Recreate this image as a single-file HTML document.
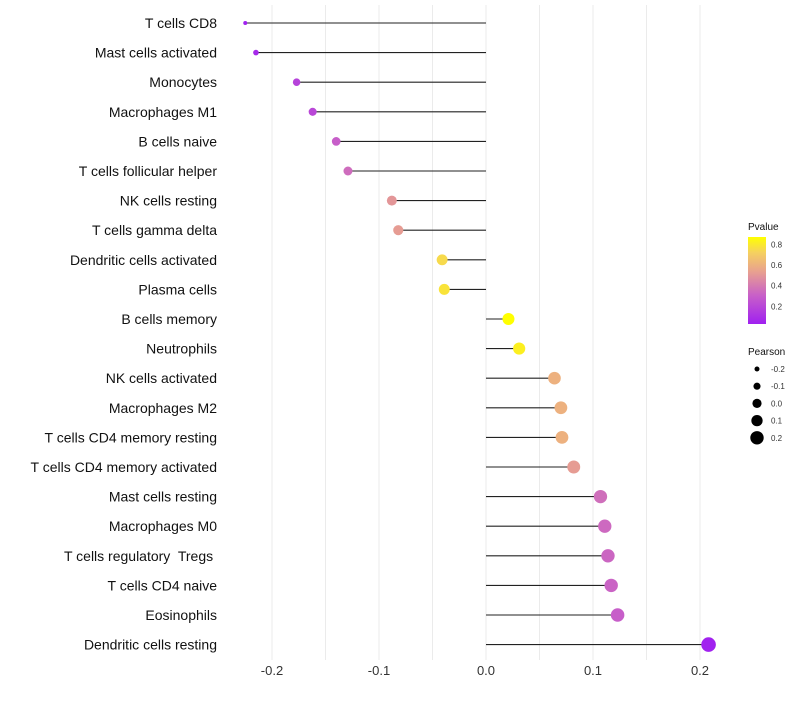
<!DOCTYPE html>
<html><head><meta charset="utf-8"><style>
body{margin:0;background:#fff;font-family:"Liberation Sans",sans-serif}
text{white-space:pre}
</style></head><body>
<svg id="chart" width="800" height="700" xmlns="http://www.w3.org/2000/svg">
<defs><linearGradient id="pg" x1="0" y1="1" x2="0" y2="0">
<stop offset="0" stop-color="#a020f0"/><stop offset="0.33" stop-color="#c860c8"/><stop offset="0.6" stop-color="#e8a090"/><stop offset="0.82" stop-color="#f5d060"/><stop offset="1" stop-color="#ffff00"/></linearGradient></defs>
<g id="grid"></g><g id="marks"></g><g id="labels"></g><g id="legend"></g>
</svg>
<script>
const categories=["T cells CD8","Mast cells activated","Monocytes","Macrophages M1","B cells naive","T cells follicular helper","NK cells resting","T cells gamma delta","Dendritic cells activated","Plasma cells","B cells memory","Neutrophils","NK cells activated","Macrophages M2","T cells CD4 memory resting","T cells CD4 memory activated","Mast cells resting","Macrophages M0","T cells regulatory  Tregs ","T cells CD4 naive","Eosinophils","Dendritic cells resting"];
const pearson=[-0.225,-0.215,-0.177,-0.162,-0.140,-0.129,-0.088,-0.082,-0.041,-0.039,0.021,0.031,0.064,0.070,0.071,0.082,0.107,0.111,0.114,0.117,0.123,0.208];
const pvalue=[0.04,0.07,0.18,0.2,0.3,0.35,0.5,0.52,0.75,0.78,0.87,0.82,0.6,0.6,0.6,0.52,0.36,0.34,0.33,0.32,0.3,0.04];
const xTicks=[-0.2,-0.1,0.0,0.1,0.2];
const xTickLabels=["-0.2","-0.1","0.0","0.1","0.2"];
const pLegend=[0.2,0.4,0.6,0.8];
const sLegend=[-0.2,-0.1,0.0,0.1,0.2];
const NS="http://www.w3.org/2000/svg";
const X=v=>486+v*1070;
const Y=i=>23+i*29.6;
const R=v=>2+5.3*Math.sqrt(Math.max(0,(v+0.225)/0.433));
const stops=[[0,[160,32,240]],[0.33,[200,96,200]],[0.6,[232,160,144]],[0.82,[245,208,96]],[1,[255,255,0]]];
const P0=0.03,P1=0.87;
function col(p){let t=Math.max(0,Math.min(1,(p-P0)/(P1-P0)));for(let k=1;k<stops.length;k++){if(t<=stops[k][0]){const a=stops[k-1],b=stops[k],u=(t-a[0])/(b[0]-a[0]);return`rgb(${a[1].map((c,j)=>Math.round(c+(b[1][j]-c)*u)).join(",")})`;}}return"rgb(255,255,0)";}
function mk(tag,attrs,parent,text){const e=document.createElementNS(NS,tag);for(const k in attrs)e.setAttribute(k,attrs[k]);if(text!==undefined)e.textContent=text;document.getElementById(parent).appendChild(e);return e;}
for(let v=-0.2;v<=0.2001;v+=0.05){const g=mk("line",{x1:X(v),x2:X(v),y1:5,y2:660,stroke:"#ebebeb","stroke-width":1},"grid");

}
xTicks.forEach((v,i)=>{const t=mk("text",{x:X(v),y:675,"text-anchor":"middle","font-size":13,fill:"#333"},"labels",xTickLabels[i]);

});
categories.forEach((c,i)=>{
const l=mk("text",{x:217,y:Y(i)+5,"text-anchor":"end","font-size":14,fill:"#111"},"labels",c);


const s=mk("line",{x1:X(0),x2:X(pearson[i]),y1:Y(i),y2:Y(i),stroke:"#222","stroke-width":1.1},"marks");


const d=mk("circle",{cx:X(pearson[i]),cy:Y(i),r:R(pearson[i]),fill:col(pvalue[i])},"marks");


});
let e=mk("text",{x:748,y:230,"font-size":10,fill:"#111"},"legend","Pvalue");


e=mk("rect",{x:748,y:237,width:18,height:87,fill:"url(#pg)"},"legend");


pLegend.forEach(p=>{const y=324-(p-P0)/(P1-P0)*87;
const t=mk("text",{x:771,y:y+3,"font-size":8,fill:"#333"},"legend",p.toFixed(1));

});
e=mk("text",{x:748,y:355,"font-size":10,fill:"#111"},"legend","Pearson");


sLegend.forEach((v,i)=>{const y=369+i*17.2;
const c=mk("circle",{cx:757,cy:y,r:2.5+i*1.05,fill:"#000"},"legend");


const t=mk("text",{x:771,y:y+3,"font-size":8,fill:"#333"},"legend",v.toFixed(1));

});
</script>
</body></html>
